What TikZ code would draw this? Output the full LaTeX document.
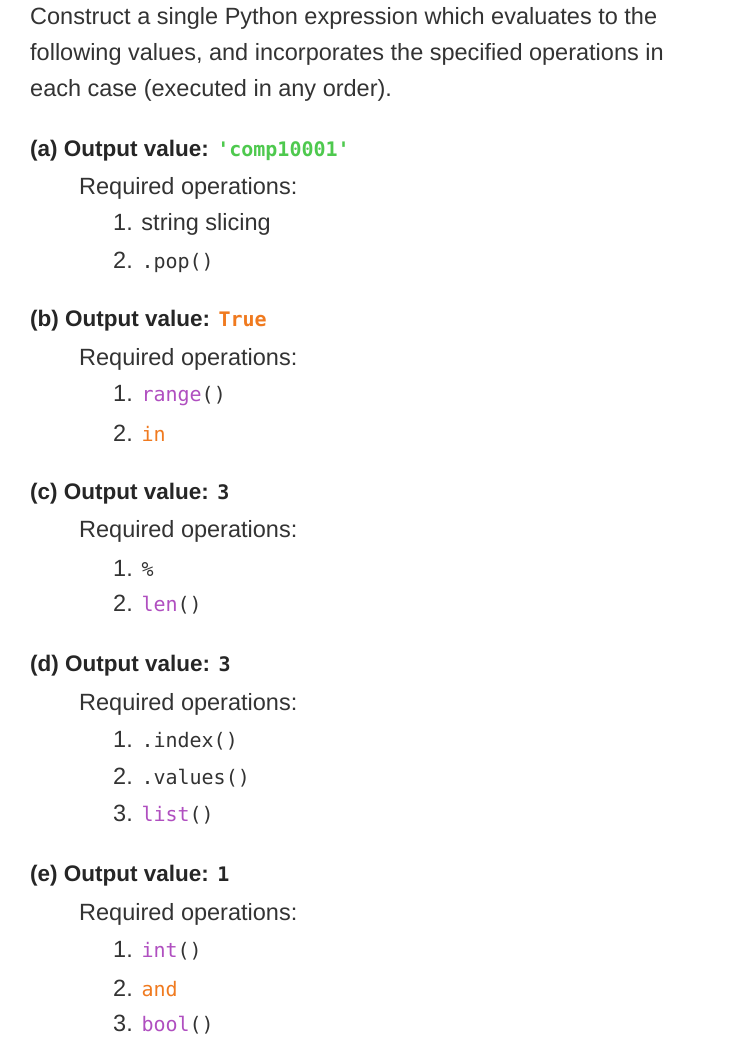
\documentclass[tikz,border=0pt]{standalone}
\usepackage{fontspec}
\setmainfont{Liberation Sans}
\newfontfamily\codefont{DejaVu Sans Mono}
\definecolor{txt}{HTML}{333333}
\definecolor{gr}{HTML}{4EC94E}
\definecolor{orn}{HTML}{F07A1F}
\definecolor{pur}{HTML}{B04FC0}
\newcommand{\cd}[1]{{\codefont\fontsize{20}{22}\selectfont #1}}
\begin{document}
\begin{tikzpicture}[x=1pt,y=-1pt,
  t/.style={anchor=west,inner sep=0pt,text=txt,font=\fontsize{23.5}{26}\selectfont},
  h/.style={t,font=\fontsize{22.5}{26}\selectfont\bfseries,text=black!85}]
\useasboundingbox[fill=white] (0,0) rectangle (733,1051);
\node[t] (l1) at (30,18) {Construct a single Python expression which evaluates to the};
\node[t] (l2) at (30,54) {following values, and incorporates the specified operations in};
\node[t] (l3) at (30,90) {each case (executed in any order).};
% a
\node[h] (a) at (30,151) {(a) Output value: \textcolor{gr}{\cd{'comp10001'}}};
\node[t] (ar) at (79,188) {Required operations:};
\node[t] (a1) at (113,224) {1. string slicing};
\node[t] (a2) at (113,262) {2. \cd{.pop()}};
% b
\node[h] (b) at (30,321) {(b) Output value: \textcolor{orn}{\cd{True}}};
\node[t] (br) at (79,359) {Required operations:};
\node[t] (b1) at (113,396) {1. \cd{\textcolor{pur}{range}()}};
\node[t] (b2) at (113,433) {2. \cd{\textcolor{orn}{in}}};
% c
\node[h] (c) at (30,494) {(c) Output value: \cd{3}};
\node[t] (cr) at (79,531) {Required operations:};
\node[t] (c1) at (113,568) {1. \cd{\%}};
\node[t] (c2) at (113,605) {2. \cd{\textcolor{pur}{len}()}};
% d
\node[h] (d) at (30,666) {(d) Output value: \cd{3}};
\node[t] (dr) at (79,704) {Required operations:};
\node[t] (d1) at (113,741) {1. \cd{.index()}};
\node[t] (d2) at (113,778) {2. \cd{.values()}};
\node[t] (d3) at (113,815) {3. \cd{\textcolor{pur}{list}()}};
% e
\node[h] (e) at (30,876) {(e) Output value: \cd{1}};
\node[t] (er) at (79,914) {Required operations:};
\node[t] (e1) at (113,951) {1. \cd{\textcolor{pur}{int}()}};
\node[t] (e2) at (113,988) {2. \cd{\textcolor{orn}{and}}};
\node[t] (e3) at (113,1025) {3. \cd{\textcolor{pur}{bool}()}};
\end{tikzpicture}
\end{document}
